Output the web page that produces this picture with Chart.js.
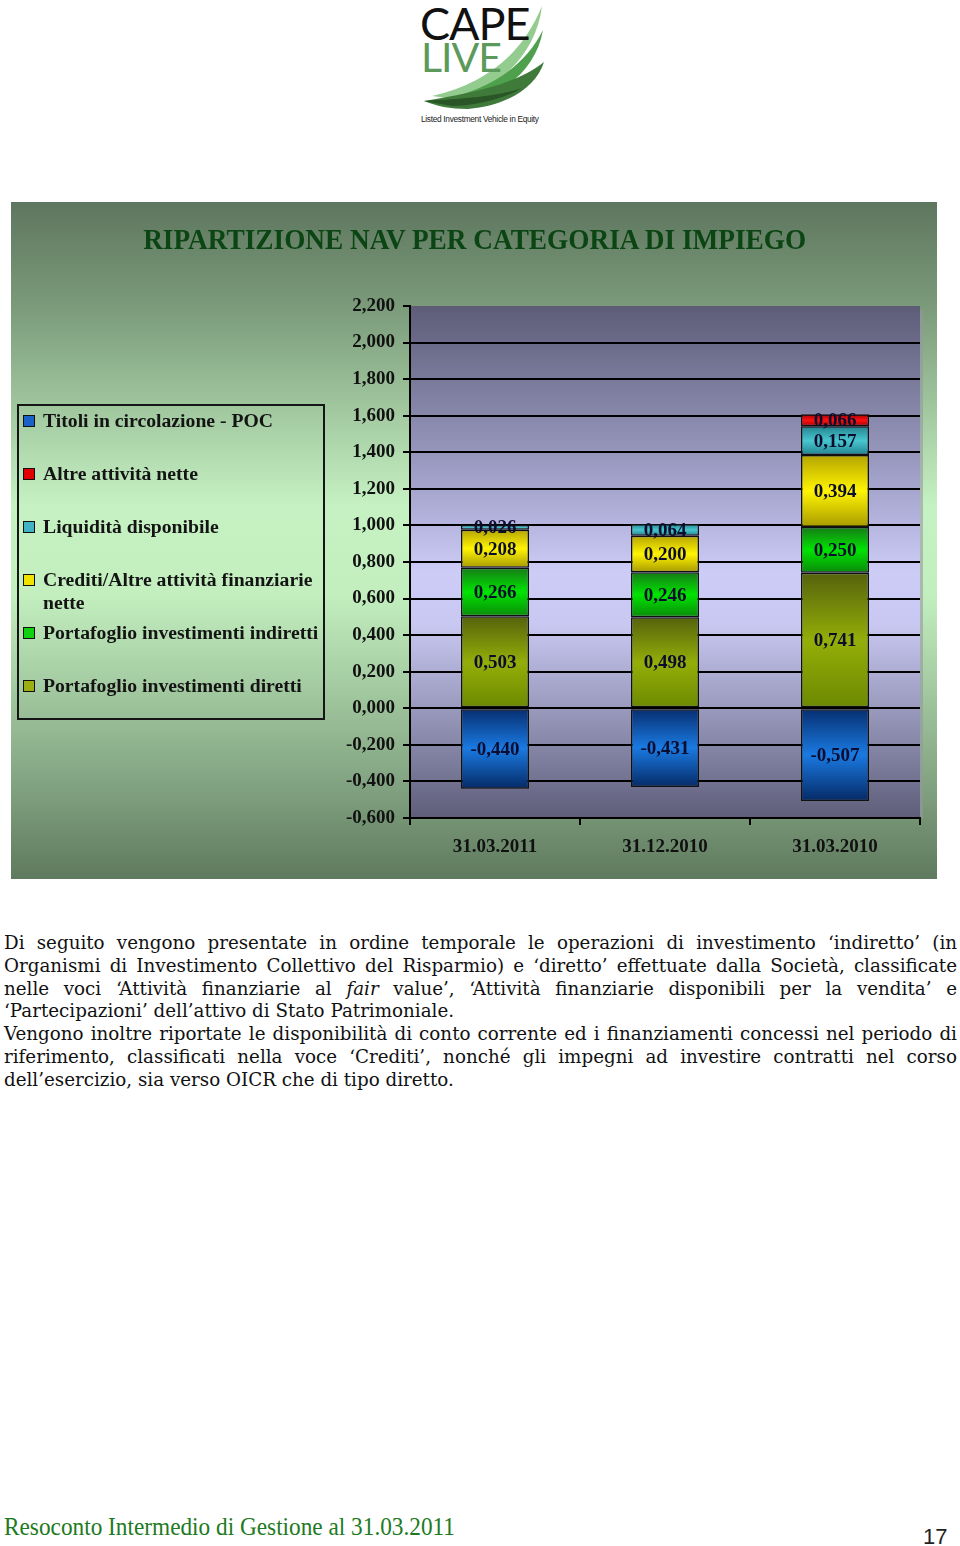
<!DOCTYPE html>
<html>
<head>
<meta charset="utf-8">
<script src="https://cdn.jsdelivr.net/npm/chart.js@4.4.1/dist/chart.umd.min.js"></script>
<style>
  body { margin: 0; background: #fff; width: 960px; height: 1546px; position: relative; overflow: hidden; }
  #logo { position: absolute; left: 410px; top: 0; }
  #panel { position: absolute; left: 11px; top: 202px; width: 926px; height: 677px; }
  #title { position: absolute; left: 0; top: 222px; width: 950px; text-align: center; white-space: nowrap;
           font: bold 30px "Liberation Serif", serif; color: #0b4514; }
  #title span { display: inline-block; transform-origin: center; }
  #legend { position: absolute; left: 17px; top: 404px; width: 304px; height: 312px; border: 2px solid #151515; }
  .item { position: absolute; left: 4px; width: 302px; font: bold 19.7px/23px "Liberation Serif", serif; color: #141414; padding-left: 20px; box-sizing: border-box; }
  .mk { position: absolute; left: 0; top: 6px; width: 10px; height: 10px; border: 1.5px solid #111; }
  #text { position: absolute; left: 4px; top: 932px; width: 953px; font-family: "DejaVu Serif", serif; font-size: 18.3px; line-height: 22.8px; color: #111; }
  #text div { height: 22.8px; white-space: nowrap; }
  #text span { display: inline-block; transform-origin: left center; }
  #foot { position: absolute; left: 4px; top: 1513px; font: 25px "Liberation Serif", serif; color: #1d7a22; white-space: nowrap; transform-origin: left center; }
  #page { position: absolute; left: 923px; top: 1524px; font: 22px "Liberation Sans", sans-serif; color: #222; }
</style>
</head>
<body>
<svg id="logo" width="145" height="130" viewBox="0 0 145 130">
  <path d="M22 96 C75 84 112 55 132 6 C127 48 98 82 52 100 Z" fill="#93cc8e"/>
  <path d="M30 100 C80 90 115 66 133 30 C127 66 98 92 62 102 Z" fill="#4fa04c"/>
  <path d="M14 101 C55 94 104 86 134 62 C126 88 96 106 58 109 C40 109 26 106 14 101 Z" fill="#3f7a3a"/>
  <path d="M14 101 C44 99 84 98 112 88 C92 100 62 106 42 106 Z" fill="#2a5527"/>
  <text x="10" y="40" font-family="Lato, sans-serif" font-weight="400" font-size="45" fill="#111" letter-spacing="-1">CAPE</text>
  <text x="11" y="72" font-family="Lato, sans-serif" font-weight="400" font-size="41" fill="#5c9a5c" letter-spacing="-1">LIVE</text>
  <text x="11" y="122" font-family="Liberation Sans Narrow, Liberation Sans, sans-serif" font-size="8.3" fill="#222" letter-spacing="-0.3">Listed Investment Vehicle in Equity</text>
</svg>

<div id="panel"><canvas id="navChart" width="926" height="677"></canvas></div>
<div id="title"><span id="titleSpan">RIPARTIZIONE NAV PER CATEGORIA DI IMPIEGO</span></div>
<div id="legend"></div>

<div id="text">
<div class="full"><span>Di seguito vengono presentate in ordine temporale le operazioni di investimento ‘indiretto’ (in</span></div>
<div class="full"><span>Organismi di Investimento Collettivo del Risparmio) e ‘diretto’ effettuate dalla Società, classificate</span></div>
<div class="full"><span>nelle voci ‘Attività finanziarie al <i>fair</i> value’, ‘Attività finanziarie disponibili per la vendita’ e</span></div>
<div><span>‘Partecipazioni’ dell’attivo di Stato Patrimoniale.</span></div>
<div class="full"><span>Vengono inoltre riportate le disponibilità di conto corrente ed i finanziamenti concessi nel periodo di</span></div>
<div class="full"><span>riferimento, classificati nella voce ‘Crediti’, nonché gli impegni ad investire contratti nel corso</span></div>
<div><span>dell’esercizio, sia verso OICR che di tipo diretto.</span></div>
</div>

<div id="foot">Resoconto Intermedio di Gestione al 31.03.2011</div>
<div id="page">17</div>

<script>
// dati
var categories = ["31.03.2011", "31.12.2010", "31.03.2010"];
var diretti   = [0.503, 0.498, 0.741];
var indiretti = [0.266, 0.246, 0.250];
var crediti   = [0.208, 0.200, 0.394];
var liquidita = [0.026, 0.064, 0.157];
var altre     = [0, 0, 0.066];
var poc       = [-0.440, -0.431, -0.507];
var yTicks    = [-0.6, 2.2, 0.2]; // min, max, step

// stack order bottom -> top, legend shows it reversed
var series = [
  { label: "Portafoglio investimenti diretti", data: diretti, stops: ["#55620c", "#94ae08", "#6c8800"], mark: "#9cae12" },
  { label: "Portafoglio investimenti indiretti", data: indiretti, stops: ["#177a17", "#00e400", "#0a8a0a"], mark: "#10d010" },
  { label: "Crediti/Altre attività finanziarie nette", data: crediti, stops: ["#b4a400", "#fff400", "#a89a00"], mark: "#f2e200" },
  { label: "Liquidità disponibile", data: liquidita, stops: ["#23838f", "#48c6cf", "#23838f"], mark: "#40b4c4" },
  { label: "Altre attività nette", data: altre, stops: ["#a00000", "#ff1010", "#a00000"], mark: "#e00000" },
  { label: "Titoli in circolazione - POC", data: poc, stops: ["#062d6e", "#1a7ae2", "#052a66"], mark: "#1a62c8" }
];

function fmt(v) {
  if (Math.abs(v) < 1e-9) v = 0;
  return v.toFixed(3).replace(".", ",");
}

function segBounds(di, j) {
  var v = series[di].data[j], base = 0;
  for (var k = 0; k < di; k++) {
    var w = series[k].data[j];
    if ((w >= 0) === (v >= 0)) base += w;
  }
  return [base, base + v];
}

function gradFill(ctx) {
  var chart = ctx.chart, s = series[ctx.datasetIndex];
  if (!chart.chartArea || ctx.dataIndex === undefined) return s.stops[1];
  var b = segBounds(ctx.datasetIndex, ctx.dataIndex);
  var y = chart.scales.y;
  var y0 = y.getPixelForValue(Math.max(b[0], b[1]));
  var y1 = y.getPixelForValue(Math.min(b[0], b[1]));
  if (y1 - y0 < 1) y1 = y0 + 1;
  var g = chart.ctx.createLinearGradient(0, y0, 0, y1);
  g.addColorStop(0, s.stops[0]);
  g.addColorStop(0.5, s.stops[1]);
  g.addColorStop(1, s.stops[2]);
  return g;
}

var backgrounds = {
  id: "backgrounds",
  beforeDraw: function (chart) {
    var c = chart.ctx, a = chart.chartArea;
    var g = c.createLinearGradient(0, 0, 0, chart.height);
    g.addColorStop(0, "#5e765f");
    g.addColorStop(0.16, "#7c9c7b");
    g.addColorStop(0.45, "#c6f2c3");
    g.addColorStop(0.58, "#c3efbf");
    g.addColorStop(0.86, "#82a381");
    g.addColorStop(1, "#5f7a5e");
    c.save();
    c.fillStyle = g;
    c.fillRect(0, 0, chart.width, chart.height);
    var p = c.createLinearGradient(0, a.top, 0, a.bottom);
    p.addColorStop(0, "#5d5d78");
    p.addColorStop(0.35, "#a3a3cc");
    p.addColorStop(0.52, "#ccccf7");
    p.addColorStop(0.62, "#c8c8f2");
    p.addColorStop(1, "#5e5e7a");
    c.fillStyle = "rgba(150,150,160,0.6)";
    c.fillRect(a.right, a.top + 4, 3, a.bottom - a.top - 4);
    c.fillStyle = p;
    c.fillRect(a.left, a.top, a.right - a.left, a.bottom - a.top);
    c.restore();
  }
};

var valueLabels = {
  id: "valueLabels",
  afterDatasetsDraw: function (chart) {
    var c = chart.ctx;
    c.save();
    c.font = "bold 19px 'Liberation Serif', serif";
    c.fillStyle = "#0c0c2e";
    c.textAlign = "center";
    c.textBaseline = "middle";
    chart.data.datasets.forEach(function (ds, di) {
      chart.getDatasetMeta(di).data.forEach(function (el, j) {
        var v = ds.data[j];
        if (!v) return;
        c.fillText(fmt(v), el.x, (el.y + el.base) / 2 + 1);
      });
    });
    c.restore();
  }
};

var datasets = series.map(function (s) {
  return {
    label: s.label,
    data: s.data,
    backgroundColor: gradFill,
    borderColor: "#101010",
    borderWidth: function (ctx) { return ctx.raw ? 1.5 : 0; },
    borderSkipped: false,
    barPercentage: 0.4,
    categoryPercentage: 1
  };
});

var ctx = document.getElementById("navChart");
var chart = new Chart(ctx, {
  type: "bar",
  data: { labels: categories, datasets: datasets },
  options: {
    responsive: false,
    animation: false,
    layout: { padding: { top: 104, right: 17, left: 0, bottom: 0 } },
    plugins: { legend: { display: false }, tooltip: { enabled: false } },
    scales: {
      x: {
        stacked: true,
        afterFit: function (scale) { scale.height = 61; },
        grid: { display: true, drawOnChartArea: false, offset: true, color: "#000", lineWidth: 2, tickLength: 7 },
        border: { display: true, color: "#000", width: 2 },
        ticks: { color: "#111", padding: 11, font: { family: "Liberation Serif", weight: "bold", size: 19 } }
      },
      y: {
        stacked: true,
        min: yTicks[0],
        max: yTicks[1],
        afterFit: function (scale) { scale.width = 399; },
        grid: {
          color: function (c) { return c.tick && c.tick.value > yTicks[1] - 0.01 ? "rgba(0,0,0,0)" : "#000"; },
          tickColor: "#000",
          lineWidth: 2,
          tickLength: 7
        },
        border: { display: true, color: "#000", width: 2 },
        ticks: {
          stepSize: yTicks[2],
          color: "#111",
          padding: 8,
          font: { family: "Liberation Serif", weight: "bold", size: 19 },
          callback: function (v) { return fmt(v); }
        }
      }
    }
  },
  plugins: [backgrounds, valueLabels]
});

// legenda in ordine inverso
var leg = document.getElementById("legend");
var tops = [3, 56, 109, 162, 215, 268];
series.slice().reverse().forEach(function (s, i) {
  var d = document.createElement("div");
  d.className = "item";
  d.style.top = tops[i] + "px";
  d.innerHTML = '<span class="mk" style="background:' + s.mark + '"></span>' + s.label;
  leg.appendChild(d);
});

// fit title and footer widths
var ts = document.getElementById("titleSpan");
ts.style.transform = "scaleX(" + (663 / ts.getBoundingClientRect().width) + ")";
var ft = document.getElementById("foot");
ft.style.transform = "scaleX(" + (451 / ft.getBoundingClientRect().width) + ")";

// justify full lines to 953px: widen spaces, or squeeze if too long
document.querySelectorAll("#text div.full span").forEach(function (sp) {
  var w = sp.getBoundingClientRect().width;
  var gaps = (sp.textContent.match(/ /g) || []).length;
  if (w < 953) {
    sp.style.wordSpacing = ((953 - w) / gaps).toFixed(2) + "px";
  } else {
    sp.style.transform = "scaleX(" + (953 / w).toFixed(4) + ")";
  }
});
</script>
</body>
</html>
